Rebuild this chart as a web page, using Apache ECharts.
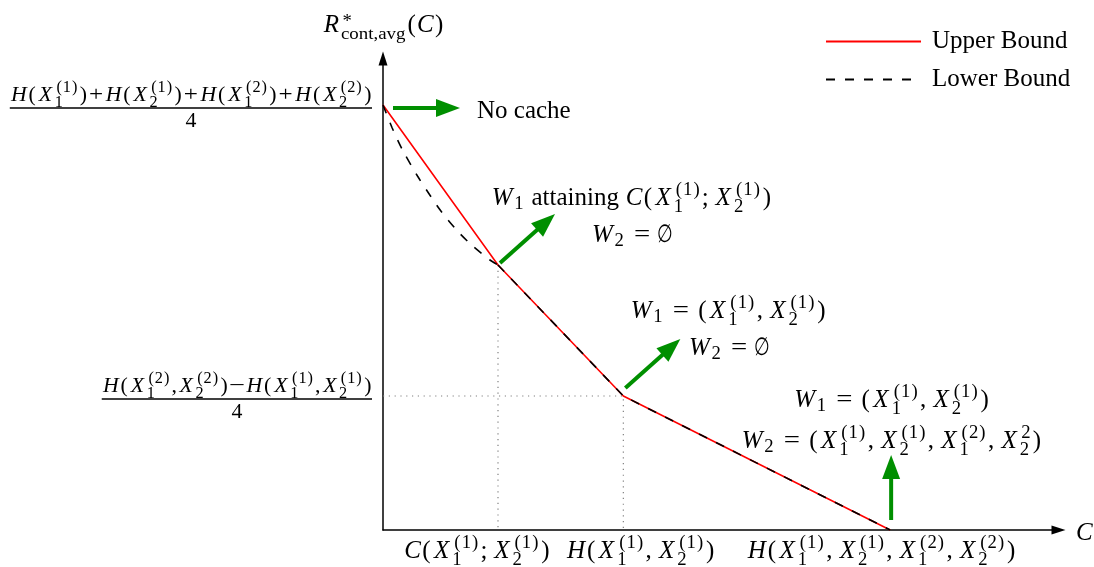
<!DOCTYPE html>
<html>
<head>
<meta charset="utf-8">
<script src="https://cdn.jsdelivr.net/npm/echarts@6/dist/echarts.min.js"></script>
<style>
  html, body { margin: 0; padding: 0; background: #fff; }
  #chart { width: 1094px; height: 567px; }
</style>
</head>
<body>
<div id="chart"></div>
<script>
// ---- Data -------------------------------------------------------------
// Corner points of the achievable (upper bound) curve: cache size C vs rate
const cornerC = [0, 1.0, 2.09, 4.41];
const upperR = [4.25, 2.65, 1.34, 0];
// Lower bound: curved part up to the first corner, afterwards it follows the corners
const lowerCurveC = [0, 0.08, 0.17, 0.30, 0.41, 0.51, 0.64, 0.77, 0.93, 1.0];
const lowerCurveR = [4.25, 4.02, 3.80, 3.54, 3.345, 3.18, 3.00, 2.85, 2.70, 2.65];
// Axis extents
const cMax = 5.874;
const rMax = 4.715;
// Tick labels (math markup)
const xTickLabels = [
  'C(X_1^{(1)};X_2^{(1)})',
  'H(X_1^{(1)},X_2^{(1)})',
  'H(X_1^{(1)},X_2^{(1)},X_1^{(2)},X_2^{(2)})'
];
const yTickValues = [upperR[0], upperR[2]];
const yTickNumerators = [
  'H(X_1^{(1)})+H(X_2^{(1)})+H(X_1^{(2)})+H(X_2^{(2)})',
  'H(X_1^{(2)},X_2^{(2)})-H(X_1^{(1)},X_2^{(1)})'
];
const yTickDenominators = ['4', '4'];
const yAxisTitle = 'R^{*}_{\\text{cont,avg}}(C)';
const xAxisTitle = 'C';
// Notes attached to each corner point
const cornerNotes = [
  ['\\text{No cache}'],
  ['W_1\\text{ attaining }C(X_1^{(1)};X_2^{(1)})', 'W_2=\\emptyset'],
  ['W_1=(X_1^{(1)},X_2^{(1)})', 'W_2=\\emptyset'],
  ['W_1=(X_1^{(1)},X_2^{(1)})', 'W_2=(X_1^{(1)},X_2^{(1)},X_1^{(2)},X_2^{2})']
];

// ---- Styling ----------------------------------------------------------
const SERIF = '"Liberation Serif", "DejaVu Serif", serif';
const GREEN = '#008f00';
const MATH_SIZE = 25;
const FRAC_SIZE = 21.8;

// ---- Small math typesetter (Computer-Modern-like advance widths) -------
const CM_MAIN = { '(': .3889, ')': .3889, ',': .2778, ';': .2778, '=': .7778, '+': .7778, '-': .7778, '∅': .5, '*': .5 };
const CM_ITALIC = { C: .7151, H: .8312, R: .7590, W: .9444, X: .8281 };
const CM_SCRIPT = { '(': .4463, ')': .4463, ',': .3173, '*': .55 };
const DIGIT_MAIN = .5, DIGIT_SCRIPT = .5693;
// Script glyphs are drawn slightly larger, like the optically sized script font
const SCRIPT_GLYPH_SCALE = 1.07;
// Horizontal glyph scaling so operators resemble the math font's glyphs
const GLYPH_STRETCH = { '=': 1.15, '+': 1.15, '-': 1.3, '∅': 0.72 };
// Vertical nudge (in em) for glyphs sitting differently from the math font
const GLYPH_DROP = { '*': 0.3 };

const mctx = document.createElement('canvas').getContext('2d');
function fontOf(size, italic) { return (italic ? 'italic ' : '') + (Math.round(size * 10) / 10) + 'px ' + SERIF; }
function measure(text, font) { mctx.font = font; return mctx.measureText(text).width; }
const baseCache = {};
function midToBase(font) {
  if (!(font in baseCache)) {
    mctx.font = font;
    mctx.textBaseline = 'middle';
    const m = mctx.measureText('H');
    baseCache[font] = m.actualBoundingBoxDescent;
    mctx.textBaseline = 'alphabetic';
  }
  return baseCache[font];
}

function atomFor(c) {
  if (c === '=') return { cls: 'rel', ch: '=' };
  if (c === '+') return { cls: 'bin', ch: '+' };
  if (c === '-') return { cls: 'bin', ch: '\u2212', key: '-' };
  if (c === ',' || c === ';') return { cls: 'punct', ch: c };
  if (/[A-Za-z]/.test(c)) return { cls: 'ord', ch: c, italic: true };
  return { cls: 'ord', ch: c };
}

function parseMath(src) {
  let i = 0;
  function seq(end) {
    const out = [];
    while (i < src.length) {
      const c = src[i];
      if (c === end) { i++; return out; }
      if (c === ' ') { i++; continue; }
      if (c === '_' || c === '^') {
        i++;
        let arg;
        if (src[i] === '{') { i++; arg = seq('}'); } else { arg = [atomFor(src[i])]; i++; }
        out[out.length - 1][c === '_' ? 'sub' : 'sup'] = arg;
        continue;
      }
      if (c === '\\') {
        let j = i + 1;
        while (j < src.length && /[a-zA-Z]/.test(src[j])) j++;
        const cmd = src.slice(i + 1, j);
        i = j;
        if (cmd === 'text') {
          const k = src.indexOf('}', i);
          out.push({ cls: 'text', ch: src.slice(i + 1, k) });
          i = k + 1;
        } else if (cmd === 'emptyset') {
          out.push({ cls: 'ord', ch: '∅' });
        }
        continue;
      }
      out.push(atomFor(c));
      i++;
    }
    return out;
  }
  return seq(null);
}

function atomWidth(a, fs, script) {
  const k = a.key || a.ch;
  if (a.cls === 'text') return measure(k, fontOf(fs, false)) * (script ? 1.08 : 1);
  if (a.italic && CM_ITALIC[k]) return CM_ITALIC[k] * fs;
  if (/[0-9]/.test(k)) return (script ? DIGIT_SCRIPT : DIGIT_MAIN) * fs;
  const t = script ? CM_SCRIPT : CM_MAIN;
  if (t[k] != null) return t[k] * fs;
  if (CM_MAIN[k] != null) return CM_MAIN[k] * fs;
  return measure(a.ch, fontOf(fs, !!a.italic));
}

function layoutList(list, fs, script, tight, x0, baseY, out) {
  let x = x0;
  const spaced = !script && !tight;
  list.forEach(a => {
    if (spaced && a.cls === 'rel') x += 0.2778 * fs;
    if (spaced && a.cls === 'bin') x += 0.2222 * fs;
    const w = atomWidth(a, fs, script);
    const key = a.key || a.ch;
    if (a.cls === 'text') {
      out.push({ text: a.ch, font: fontOf(fs, false), x: x, y: baseY, align: 'left', scaleX: script ? 1.08 : 1 });
    } else {
      const gs = script ? fs * SCRIPT_GLYPH_SCALE : fs;
      out.push({ text: a.ch, font: fontOf(gs, !!a.italic), x: x + w / 2,
                 y: baseY + (GLYPH_DROP[key] || 0) * fs, align: 'center', scaleX: GLYPH_STRETCH[key] || 1 });
    }
    x += w;
    if (a.sub || a.sup) {
      const sfs = fs * 0.7;
      const ic = a.italic ? 0.06 * fs : 0;
      let sw = 0;
      if (a.sup) sw = Math.max(sw, layoutList(a.sup, sfs, true, tight, x + ic, baseY - 0.42 * fs, out) - x);
      if (a.sub) sw = Math.max(sw, layoutList(a.sub, sfs, true, tight, x, baseY + (a.sup ? 0.27 : 0.15) * fs, out) - x);
      x += sw + 0.05 * fs;
    }
    if (spaced && a.cls === 'rel') x += 0.2778 * fs;
    if (spaced && a.cls === 'bin') x += 0.2222 * fs;
    if (spaced && a.cls === 'punct') x += 0.1667 * fs;
  });
  return x;
}

// Returns graphic elements for a formula placed at (anchorX, baseline)
function mathGraphic(src, fs, anchorX, baseline, align, tight) {
  const items = [];
  const width = layoutList(parseMath(src), fs, false, !!tight, 0, 0, items);
  const left = align === 'center' ? anchorX - width / 2 : align === 'right' ? anchorX - width : anchorX;
  const els = items.map(it => ({
    type: 'text',
    silent: true,
    x: left + it.x,
    y: baseline + it.y - midToBase(it.font),
    scaleX: it.scaleX,
    style: {
      text: it.text, font: it.font, fill: '#000',
      align: it.align, verticalAlign: 'middle',
      textAlign: it.align, textVerticalAlign: 'middle'
    }
  }));
  return { els, width, left };
}

function arrowGraphic(sx, sy, vx, vy) {
  const len = Math.hypot(vx, vy), ux = vx / len, uy = vy / len;
  const head = 24, half = 9;
  const bx = sx + vx - ux * head, by = sy + vy - uy * head;
  return [
    { type: 'line', silent: true, shape: { x1: sx, y1: sy, x2: bx + ux, y2: by + uy }, style: { stroke: GREEN, lineWidth: 4 } },
    { type: 'polygon', silent: true,
      shape: { points: [[sx + vx, sy + vy], [bx - uy * half, by + ux * half], [bx + uy * half, by - ux * half]] },
      style: { fill: GREEN } }
  ];
}

// ---- Chart ------------------------------------------------------------
const chart = echarts.init(document.getElementById('chart'), null, { renderer: 'canvas' });

const axisCommon = {
  type: 'value',
  min: 0,
  axisLine: {
    show: true, onZero: false,
    symbol: ['none', 'triangle'], symbolSize: [9, 14],
    lineStyle: { color: '#000', width: 1.5 }
  },
  axisTick: { show: false },
  axisLabel: { show: false },
  splitLine: { show: false }
};

const guideStyle = { color: '#808080', width: 1.2, type: [1.2, 4.6] };
const lowerStyle = { color: '#000', width: 1.6, type: [9, 10] };

chart.setOption({
  animation: false,
  grid: { left: 383, right: 35.5, top: 58.5, bottom: 37 },
  xAxis: Object.assign({}, axisCommon, { max: cMax }),
  yAxis: Object.assign({}, axisCommon, { max: rMax }),
  legend: {
    orient: 'vertical', left: 825, top: 29, padding: 0,
    itemWidth: 95, itemHeight: 14, itemGap: 13,
    selectedMode: false,
    data: ['Upper Bound', 'Lower Bound'],
    itemStyle: { opacity: 0 },
    textStyle: { fontFamily: SERIF, fontSize: 25, lineHeight: 25, color: '#000', padding: [0, 0, 0, 6] }
  },
  series: [
    { name: 'guide-v', type: 'line', silent: true, symbol: 'none', z: 1, lineStyle: guideStyle,
      data: [[cornerC[1], upperR[1]], [cornerC[1], 0]] },
    { name: 'guide-l', type: 'line', silent: true, symbol: 'none', z: 1, lineStyle: guideStyle,
      data: [[0, upperR[2]], [cornerC[2], upperR[2]], [cornerC[2], 0]] },
    { name: 'Upper Bound', type: 'line', silent: true, symbol: 'none', z: 3,
      itemStyle: { color: '#ff0000' },
      lineStyle: { color: '#ff0000', width: 1.6 },
      data: cornerC.map((c, i) => [c, upperR[i]]) },
    { name: 'Lower Bound', type: 'line', silent: true, symbol: 'none', z: 4, smooth: 0.3,
      itemStyle: { color: '#000' },
      lineStyle: lowerStyle,
      data: lowerCurveC.map((c, i) => [c, lowerCurveR[i]]) },
    { name: 'Lower Bound', type: 'line', silent: true, symbol: 'none', z: 4,
      itemStyle: { color: '#000' },
      lineStyle: lowerStyle,
      data: cornerC.slice(1).map((c, i) => [c, upperR[i + 1]]) }
  ]
});

// ---- Annotations positioned from the grid's own scales ------------------
const px = (c, r) => chart.convertToPixel({ gridIndex: 0 }, [c, r]);
const graphics = [];
const origin = px(0, 0);
const axisX = origin[0], axisY = origin[1];

// Axis titles
graphics.push(...mathGraphic(yAxisTitle, MATH_SIZE, axisX, px(0, rMax)[1] - 26.5, 'center').els);
graphics.push(...mathGraphic(xAxisTitle, MATH_SIZE, px(cMax, 0)[0] + 17, axisY + 10, 'left').els);

// x tick labels under the corner points
const xLabelShift = [-21, 17, -9];
xTickLabels.forEach((lab, k) => {
  const x = px(cornerC[k + 1], 0)[0] + xLabelShift[k];
  graphics.push(...mathGraphic(lab, MATH_SIZE, x, axisY + 28, 'center').els);
});

// y tick labels as fractions
yTickValues.forEach((v, k) => {
  const barY = px(0, v)[1] + 3;
  const right = axisX - 11;
  const num = mathGraphic(yTickNumerators[k], FRAC_SIZE, right, barY - 7, 'right', true);
  graphics.push(...num.els);
  graphics.push({ type: 'line', silent: true, shape: { x1: num.left, y1: barY, x2: right, y2: barY },
                  style: { stroke: '#000', lineWidth: 1.3 } });
  graphics.push(...mathGraphic(yTickDenominators[k], FRAC_SIZE, right - num.width / 2, barY + 19, 'center', true).els);
});

// Notes and green arrows at each corner
const noteLayout = [
  { align: 'left', dx: 94, base: [13], arrow: [10, 3, 67, 0] },
  { align: 'center', dx: 133, base: [-60, -23], arrow: [2, -2, 55, -49] },
  { align: 'center', dx: 104.5, base: [-78, -41], arrow: [2, -8, 55, -49] },
  { align: 'center', dx: 1, base: [-123, -82], arrow: [1, -10, 0, -65] }
];
cornerNotes.forEach((lines, k) => {
  const p = px(cornerC[k], upperR[k]);
  const L = noteLayout[k];
  lines.forEach((src, j) => {
    graphics.push(...mathGraphic(src, MATH_SIZE, p[0] + L.dx, p[1] + L.base[j], L.align).els);
  });
  graphics.push(...arrowGraphic(p[0] + L.arrow[0], p[1] + L.arrow[1], L.arrow[2], L.arrow[3]));
});

chart.setOption({ graphic: { elements: graphics } });
</script>
</body>
</html>
